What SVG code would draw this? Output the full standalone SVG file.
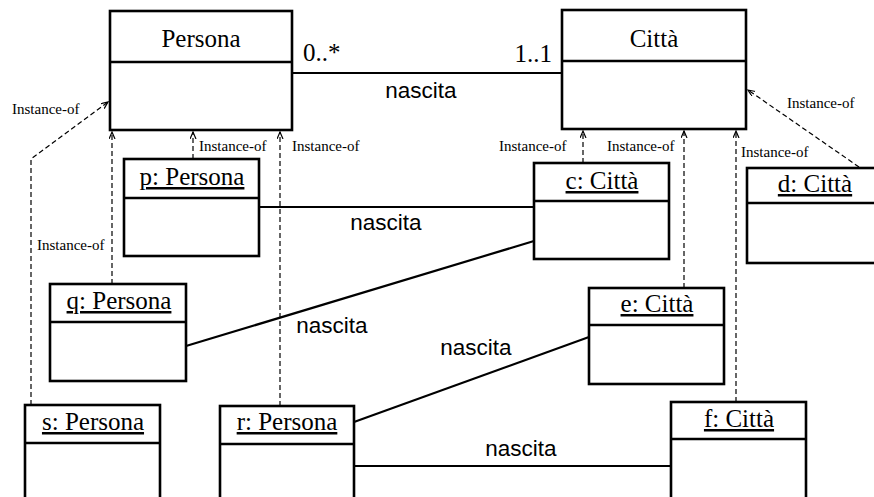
<svg xmlns="http://www.w3.org/2000/svg" width="874" height="497" viewBox="0 0 874 497">
<defs>
<style>
.box{fill:#fff;stroke:#000;stroke-width:2.6}
.div{stroke:#000;stroke-width:2.6}
.t{font-family:"Liberation Serif","Times New Roman",serif;font-size:25px;fill:#000;text-anchor:middle}
.u{text-decoration:underline}
.m{font-family:"Liberation Serif","Times New Roman",serif;font-size:25px;fill:#000}
.n{font-family:"Liberation Sans",Arial,sans-serif;font-size:22.5px;fill:#000;text-anchor:middle}
.i{font-family:"Liberation Serif","Times New Roman",serif;font-size:15px;fill:#000}
.assoc{fill:none;stroke:#000;stroke-width:2.2}
.inst{fill:none;stroke:#000;stroke-width:1.2;stroke-dasharray:5 3;marker-end:url(#ar)}
</style>
<marker id="ar" markerUnits="userSpaceOnUse" markerWidth="10" markerHeight="10" refX="7" refY="3" orient="auto">
<path d="M0,0 L7,3 L0,6" fill="none" stroke="#000" stroke-width="1.2"/>
</marker>
</defs>

<g id="connectors">
<line class="assoc" x1="292" y1="73" x2="562" y2="73"/>
<line class="assoc" x1="259" y1="207" x2="534" y2="207"/>
<line class="assoc" x1="186" y1="346" x2="534" y2="241"/>
<line class="assoc" x1="354" y1="422" x2="589" y2="337"/>
<line class="assoc" x1="354" y1="466" x2="671" y2="466"/>
<path class="inst" d="M31,405 V159 L108,102"/>
<path class="inst" d="M112,284 V132"/>
<path class="inst" d="M193,159 V132"/>
<path class="inst" d="M280,406 V132"/>
<path class="inst" d="M583,163 V131"/>
<path class="inst" d="M684,288 V131"/>
<path class="inst" d="M736,402 V131"/>
<path class="inst" d="M859,167 L748,90"/>
<text class="m" x="303" y="61">0..*</text>
<text class="m" x="552" y="62" text-anchor="end">1..1</text>
<text class="n" x="421" y="98">nascita</text>
<text class="n" x="386" y="230">nascita</text>
<text class="n" x="332" y="333">nascita</text>
<text class="n" x="476" y="355">nascita</text>
<text class="n" x="521" y="456">nascita</text>
<text class="i" x="12" y="114">Instance-of</text>
<text class="i" x="37" y="250">Instance-of</text>
<text class="i" x="199" y="151">Instance-of</text>
<text class="i" x="292" y="151">Instance-of</text>
<text class="i" x="499" y="151">Instance-of</text>
<text class="i" x="607" y="151">Instance-of</text>
<text class="i" x="741" y="157">Instance-of</text>
<text class="i" x="787" y="108">Instance-of</text>
</g>

<g id="Persona">
<rect class="box" x="110" y="11" width="182" height="119"/>
<line class="div" x1="110" y1="62" x2="292" y2="62"/>
<text class="t" x="201" y="47">Persona</text>
</g>
<g id="Citta">
<rect class="box" x="562" y="10" width="184" height="119"/>
<line class="div" x1="562" y1="61" x2="746" y2="61"/>
<text class="t" x="654" y="47">Città</text>
</g>
<g id="p">
<rect class="box" x="124" y="159" width="135" height="97"/>
<line class="div" x1="124" y1="198" x2="259" y2="198"/>
<text class="t u" x="192" y="185">p: Persona</text>
</g>
<g id="q">
<rect class="box" x="50" y="284" width="136" height="97"/>
<line class="div" x1="50" y1="322" x2="186" y2="322"/>
<text class="t u" x="119" y="309">q: Persona</text>
</g>
<g id="s">
<rect class="box" x="25" y="405" width="135" height="97"/>
<line class="div" x1="25" y1="443" x2="160" y2="443"/>
<text class="t u" x="93" y="430">s: Persona</text>
</g>
<g id="r">
<rect class="box" x="220" y="406" width="134" height="97"/>
<line class="div" x1="220" y1="444" x2="354" y2="444"/>
<text class="t u" x="287" y="430">r: Persona</text>
</g>
<g id="c">
<rect class="box" x="534" y="163" width="135" height="96"/>
<line class="div" x1="534" y1="201" x2="669" y2="201"/>
<text class="t u" x="602" y="189">c: Città</text>
</g>
<g id="d">
<rect class="box" x="747" y="168" width="135" height="95"/>
<line class="div" x1="747" y1="203" x2="882" y2="203"/>
<text class="t u" x="815" y="192">d: Città</text>
</g>
<g id="e">
<rect class="box" x="589" y="288" width="135" height="96"/>
<line class="div" x1="589" y1="325" x2="724" y2="325"/>
<text class="t u" x="657" y="312">e: Città</text>
</g>
<g id="f">
<rect class="box" x="671" y="402" width="135" height="97"/>
<line class="div" x1="671" y1="439" x2="806" y2="439"/>
<text class="t u" x="739" y="427">f: Città</text>
</g>
</svg>
